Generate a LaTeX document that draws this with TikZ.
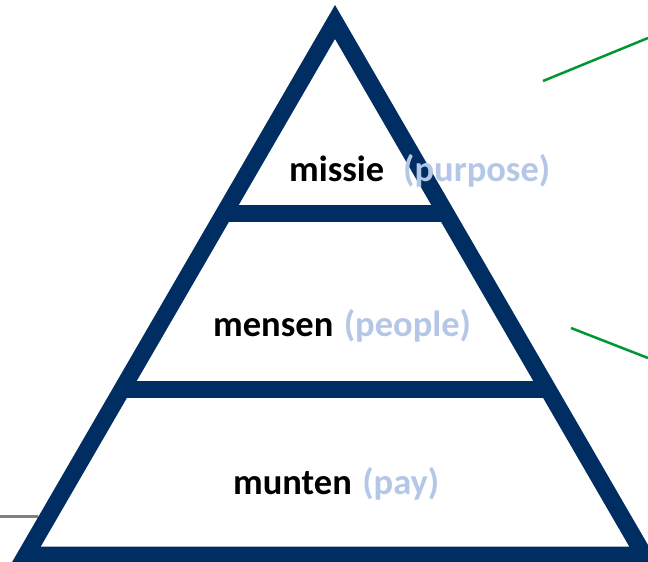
\documentclass[tikz,border=0pt]{standalone}
\usepackage{fontspec}
\setmainfont{Carlito}
\usepackage{tikz}
\usetikzlibrary{positioning,calc}
\definecolor{navy}{RGB}{0,45,98}
\definecolor{paleblue}{RGB}{180,199,231}
\definecolor{leafgreen}{RGB}{0,150,50}
\definecolor{midgray}{RGB}{128,128,128}

\begin{document}
\begin{tikzpicture}[x=1pt, y=-1pt]
    \tikzset{
        frame/.style={draw=navy, line width=17pt, miter limit=10, line join=miter},
        bar/.style={draw=navy, line width=17pt},
        layer/.style={anchor=base west, inner sep=0pt, font=\fontsize{36.5}{40}\selectfont\bfseries},
        eng/.style={text=paleblue},
        pointer/.style={draw=leafgreen, line width=2.5pt},
        rule/.style={draw=midgray, line width=3pt}
    }
    \useasboundingbox (0,0) rectangle (648,562);

    % Corners of the pyramid
    \coordinate (top) at (335,22);
    \coordinate (bl) at (26,555);
    \coordinate (br) at (644,555);

    % Side rule behind the base
    \coordinate (r1) at (0,516);
    \coordinate (r2) at (38,516);
    \path[rule] (r1) -- (r2);

    % Pyramid
    \path[frame] (top) -- (bl) -- (br) -- cycle;
    \path[bar] ($(top)!0.3584!(bl)$) coordinate (a1) -- ($(top)!0.3584!(br)$) coordinate (a2);
    \path[bar] ($(top)!0.6904!(bl)$) coordinate (b1) -- ($(top)!0.6904!(br)$) coordinate (b2);

    % Labels
    \node[layer] (missie) at (289,181) {missie};
    \node[layer, eng] (purpose) at (403,181) {(purpose)};
    \node[layer] (mensen) at (213,336) {mensen};
    \node[layer, eng, right=10pt of mensen.base east, anchor=base west] (people) {(people)};
    \node[layer] (munten) at (233,494) {munten};
    \node[layer, eng, right=10pt of munten.base east, anchor=base west] (pay) {(pay)};

    % Pointers
    \coordinate (p1) at (543,81);
    \coordinate (q1) at (648,38);
    \coordinate (p2) at (571,328);
    \coordinate (q2) at (648,358);
    \path[pointer] (p1) -- (q1);
    \path[pointer] (p2) -- (q2);
\end{tikzpicture}
\end{document}
